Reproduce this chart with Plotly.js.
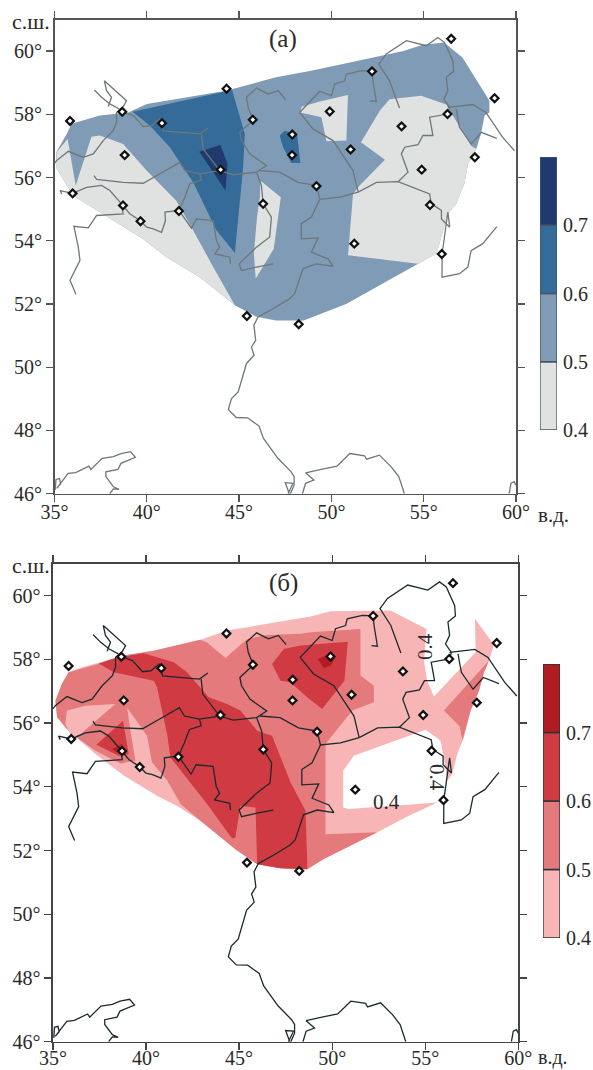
<!DOCTYPE html>
<html><head><meta charset="utf-8">
<script src="https://cdn.plot.ly/plotly-3.0.1.min.js"></script>
<style>html,body{margin:0;padding:0;background:#fff}</style></head>
<body><div id="g" style="width:593px;height:1070px"></div>
<script>
// Stations [lon, lat]
const stations=[[35.84,57.79],[38.67,58.08],[40.82,57.72],[44.32,58.81],[45.74,57.83],[38.8,56.71],[35.98,55.5],[38.71,55.12],[39.66,54.62],[41.74,54.94],[44.0,56.25],[46.3,55.17],[47.88,57.36],[47.87,56.71],[45.42,51.62],[48.23,51.36],[49.91,58.09],[52.2,59.36],[56.49,60.39],[58.84,58.51],[56.29,58.01],[53.8,57.62],[51.04,56.89],[49.19,55.73],[54.89,56.25],[57.77,56.64],[55.34,55.13],[51.24,53.91],[55.98,53.58]];
// Rivers and coast [lon, lat]
const rivers=[
[[37.16,58.77],[37.55,58.54],[38.0,58.33],[38.51,58.17]],
[[35.0,56.45],[35.12,56.54],[35.75,56.83],[36.56,56.64],[37.1,56.75],[37.64,57.17],[38.18,57.48],[38.36,57.75],[38.36,58.06],[38.72,58.24],[38.9,58.43],[38.27,58.77],[37.7,59.06],[37.82,58.75],[38.09,58.54],[37.91,58.25]],
[[38.69,58.08],[39.27,57.96],[39.81,57.61],[40.26,57.64],[40.7,57.85],[40.89,57.48],[42.87,57.38],[43.32,57.57]],
[[42.96,57.38],[43.05,56.91],[43.95,56.22],[44.68,56.09],[45.94,56.17],[46.48,56.38],[45.58,56.75],[45.13,57.17],[45.04,57.43],[45.76,57.82],[45.49,58.22],[45.4,58.54],[45.94,58.83],[46.57,58.64],[47.11,58.75],[47.53,58.46]],
[[37.14,56.06],[37.28,55.94],[38.72,55.85],[39.81,55.82],[40.71,56.12],[41.79,56.48],[42.06,56.22],[42.87,56.12],[43.95,56.22]],
[[42.87,56.12],[42.96,55.91],[42.33,55.8],[42.06,55.38],[41.74,54.96],[40.98,54.91],[41.01,54.64],[40.8,54.27],[40.35,54.38],[39.99,54.43],[39.63,54.64],[39.09,54.85],[38.63,55.17],[38.0,55.59],[37.55,55.75],[36.74,55.69],[35.98,55.5],[35.3,55.59],[35.39,55.48]],
[[41.74,54.96],[42.42,54.4],[42.69,54.69],[43.6,54.64],[43.77,54.01],[43.95,53.8],[43.68,53.59],[44.5,53.48],[44.53,53.27]],
[[38.63,55.17],[38.72,54.85],[37.28,54.8],[36.83,54.41],[36.05,54.46],[36.29,53.8],[36.38,53.38],[35.84,52.75],[36.16,52.31]],
[[45.94,56.17],[46.21,55.75],[46.3,55.17],[46.75,54.75],[46.66,54.12],[45.94,53.8],[45.0,53.27],[45.13,53.06],[45.94,53.17],[46.84,53.27]],
[[46.12,56.22],[47.2,56.17],[48.19,55.85],[49.19,55.75],[49.37,55.31],[50.45,55.38],[51.45,55.54],[52.44,55.85],[53.61,55.87],[55.32,55.48],[55.41,55.17],[55.96,54.96],[55.96,54.69],[56.41,54.43],[56.31,54.91],[56.0,53.59],[55.99,52.85],[56.94,52.96],[57.39,53.17],[57.57,53.69],[58.2,53.91],[58.96,54.45]],
[[49.37,55.31],[48.92,54.75],[48.37,54.54],[48.37,54.06],[49.28,54.09],[48.92,53.64],[49.82,53.43],[50.09,53.19],[49.19,53.27],[48.46,53.12],[48.01,52.33],[47.74,52.17],[46.84,51.85],[46.03,51.59],[45.8,51.33],[45.9,50.85],[45.67,50.64],[45.81,50.38],[45.4,50.12],[45.16,49.64],[44.95,49.22],[44.58,49.0],[44.42,48.66],[44.85,48.41],[45.46,48.4],[46.08,48.14],[46.32,47.75],[47.1,47.12],[47.82,46.69],[47.98,46.54],[47.98,46.27],[47.78,46.0]],
[[47.65,46.0],[47.92,46.33],[47.5,46.35],[47.72,46.0]],
[[48.28,58.06],[49.37,58.73],[50.0,58.59],[50.18,58.96],[50.72,59.06],[50.81,59.27],[51.62,59.38],[52.2,59.36],[52.25,59.06],[52.43,58.41],[52.11,58.43]],
[[48.28,58.06],[49.0,57.54],[50.09,57.17],[51.17,56.22],[51.45,55.54]],
[[53.69,58.2],[53.15,59.06],[52.57,59.59],[52.97,59.91],[54.06,60.33],[55.14,60.17],[55.77,60.43],[56.13,60.27],[56.58,59.69],[56.62,59.36],[56.22,59.17],[56.31,58.75],[56.09,58.48],[56.4,58.22],[56.31,58.01],[55.32,57.91],[55.5,57.33],[54.96,57.33],[54.69,57.04],[53.97,56.96],[53.79,56.75],[54.15,56.17],[53.61,55.87]],
[[56.31,58.22],[57.66,58.31],[58.37,58.06],[59.28,57.27],[59.92,56.85]],
[[56.76,58.17],[56.94,57.59],[57.57,57.06],[58.12,57.43],[58.96,57.24]],
[[35.04,46.12],[35.08,46.45],[35.27,46.48],[35.33,46.31],[35.12,46.17],[35.74,46.64],[36.15,46.67],[36.86,46.87],[36.97,46.77],[37.58,47.12],[38.19,47.17],[38.6,47.27],[39.12,47.33],[39.38,47.15],[38.6,46.96],[38.44,46.77],[37.78,46.69],[37.78,46.54],[38.19,46.22],[38.5,46.14],[38.19,46.15],[37.99,46.0]],
[[48.43,46.0],[48.6,46.33],[49.05,46.43],[48.6,46.66],[49.45,46.77],[50.3,46.87],[51.0,47.27],[51.8,47.2],[51.9,47.09],[52.6,47.22],[53.24,46.85],[53.65,46.54],[53.92,46.06],[53.96,46.0]],
[[59.63,46.0],[59.73,46.33],[59.9,46.38],[60.0,46.27]]
];
// Panel (a) isoline regions [lon, lat]
const a05=[[35.08,56.43],[35.1,56.8],[35.66,57.38],[35.93,57.7],[37.46,57.96],[39.0,58.06],[40,58.33],[44.3,58.75],[47.0,59.17],[48.9,59.38],[51.0,59.64],[52.6,59.85],[53.9,60.0],[54.96,60.2],[56.1,60.27],[57.1,59.8],[57.85,59.1],[58.56,58.43],[58.56,58.06],[58.3,57.96],[58.1,57.38],[57.85,56.9],[57.4,56.43],[57.2,55.8],[56.76,55.17],[56.3,54.85],[55.7,53.6],[54.7,53.27],[53.15,52.75],[50.8,52.0],[48.5,51.48],[47.0,51.48],[45.94,51.6],[44.77,51.96],[42.87,52.85],[41.07,53.48],[39.8,54.06],[37.3,54.96],[36.0,55.43],[35.1,56.3]];
const a04A=[[35.08,56.43],[35.12,56.8],[35.71,57.22],[36.15,55.75],[37.0,57.29],[37.46,57.33],[38.72,57.06],[39.99,56.22],[41.6,55.27],[42.42,54.43],[43.6,53.17],[44.77,51.96],[42.87,52.85],[41.07,53.48],[39.8,54.06],[37.3,54.96],[36.0,55.43],[35.1,56.3]];
const a04B=[[46.16,55.9],[47.26,55.38],[46.88,53.75],[45.9,52.8],[45.8,53.59],[45.97,54.75],[46.12,55.38]];
const a04C=[[50.9,58.61],[50.81,57.17],[49.73,57.15],[49.46,57.91],[48.32,58.06],[48.38,58.24],[49.37,58.41]];
const a04D=[[53.15,58.48],[54.87,58.59],[56.22,58.31],[56.76,57.8],[57.57,57.01],[57.85,56.9],[57.4,56.43],[57.2,55.8],[56.76,55.17],[56.3,54.85],[55.7,53.59],[54.7,53.27],[50.9,53.54],[51.17,55.48],[51.53,55.75],[52.9,56.56],[51.6,57.12],[52.63,58.12]];
const a06A=[[39.23,58.08],[44.32,58.75],[44.62,58.77],[45.31,57.38],[45.22,56.33],[44.77,53.61],[43.77,54.33],[42.51,55.85],[41.25,56.96],[40.17,57.64]];
const a06B=[[47.2,57.33],[47.47,57.48],[48.14,57.38],[48.32,56.46],[47.83,56.46],[47.38,56.96]];
const a07=[[42.84,56.82],[43.99,57.03],[44.37,56.43],[44.26,55.59],[43.6,56.17]];
// Panel (б) isoline regions [lon, lat]
const b04=[[35.13,56.7],[35.48,57.23],[35.84,57.59],[36.56,57.75],[37.54,57.91],[38.8,58.12],[40.41,58.27],[42.92,58.61],[44.35,58.9],[46.5,59.11],[48.3,59.27],[48.84,59.34],[49.91,59.51],[53.14,59.53],[55.07,58.95],[54.93,57.96],[55.1,57.33],[55.47,56.83],[57.71,58.22],[57.67,59.27],[58.69,58.46],[58.43,57.96],[58.16,57.59],[57.89,57.02],[57.44,56.39],[57.08,55.55],[56.72,55.03],[56.45,54.4],[56.18,54.19],[56.0,54.92],[55.82,55.45],[55.02,55.79],[51.16,54.97],[50.59,54.5],[50.59,53.35],[50.9,53.3],[55.65,53.51],[53.95,53.04],[52.43,52.57],[49.55,51.73],[48.66,51.41],[47.22,51.44],[45.97,51.57],[44.8,52.04],[42.92,52.93],[41.67,53.4],[40.59,53.72],[38.8,54.35],[37.28,55.03],[35.75,55.81],[35.22,56.18]];
const b05=[[35.13,56.7],[35.48,57.23],[35.84,57.59],[37.54,57.87],[38.8,58.12],[40.41,58.27],[42.92,58.61],[43.28,58.53],[44.27,58.04],[45.43,58.64],[46.5,58.76],[48.3,58.8],[48.84,58.85],[51.52,58.95],[51.52,57.49],[52.24,57.17],[52.24,56.65],[51.08,56.39],[49.64,55.34],[49.64,52.51],[52.43,52.57],[49.55,51.73],[48.66,51.41],[47.22,51.44],[45.97,51.57],[44.8,52.04],[42.92,52.93],[41.85,53.46],[41.13,54.19],[40.32,54.76],[39.34,54.82],[38.62,54.73],[37.28,55.13],[36.38,55.5],[35.75,55.81],[35.22,56.18]];
const b05R=[[56.0,56.39],[58.43,57.96],[58.16,57.59],[57.89,57.02],[57.44,56.39],[57.0,55.45],[56.85,55.9]];
const b04P1=[[35.75,56.39],[36.74,56.54],[38.35,56.6],[37.54,56.18],[36.47,55.65],[36.02,55.55],[35.66,55.97]];
const b04P2=[[38.98,56.49],[40.05,55.6],[40.32,54.76],[41.13,54.19],[41.85,53.46],[40.59,54.19],[39.87,54.45],[39.43,54.82],[39.19,55.65]];
const b06A=[[37.46,57.87],[38.44,58.06],[39.87,58.19],[40.59,58.06],[41.49,57.91],[42.2,57.59],[43.37,56.81],[44.35,56.6],[45.07,56.39],[45.97,55.76],[46.77,55.6],[47.76,54.14],[48.57,53.25],[48.66,51.62],[48.66,51.41],[47.22,51.44],[45.97,51.57],[45.88,53.35],[45.07,53.4],[44.8,52.41],[44.62,52.38],[43.28,53.46],[41.31,54.92],[41.13,55.65],[40.59,57.12],[40.41,57.33],[38.8,57.51],[38.26,57.59]];
const b06B=[[46.77,57.85],[47.4,58.32],[48.3,58.43],[50.84,58.55],[50.66,57.33],[49.46,56.44],[48.66,56.81],[47.76,57.28],[47.22,57.33]];
const b06C=[[37.33,55.32],[38.76,56.07],[39.07,55.03],[38.53,54.97]];
const b07A=[[49.23,58.01],[49.91,58.17],[50.18,58.06],[49.91,57.8],[49.55,57.73]];
const b07B=[[38.17,55.18],[38.71,55.34],[38.94,54.97],[38.44,55.08]];
// Colour scale
const levels=[0.4,0.5,0.6,0.7];
const stepValue=[0.1,0.1,0.1,0.1];
const blues=['#e0e2e1','#7f9bb5','#356b98','#1f3a6c'];
const reds=['#f8b5b5','#e57a7c','#d03a42','#b11c22'];
const lonTicks=[35,40,45,50,55,60];
const latTicks=[46,48,50,52,54,56,58,60];

const W=593,H=1070,SERIF='"Liberation Serif",serif';
const dx=(a,b)=>[a/W,b/W], dy=(t,b)=>[1-b/H,1-t/H];
const traces=[];
function poly(p,c,ax){traces.push({type:'scatter',mode:'lines',x:p.map(q=>q[0]),y:p.map(q=>q[1]),fill:'toself',fillcolor:c,line:{width:0,color:c},hoverinfo:'skip',xaxis:'x'+ax,yaxis:'y'+ax,showlegend:false});}
function overlay(ax,col,lw){
  rivers.forEach(r=>traces.push({type:'scatter',mode:'lines',x:r.map(q=>q[0]),y:r.map(q=>q[1]),line:{color:col,width:lw},hoverinfo:'skip',xaxis:'x'+ax,yaxis:'y'+ax,showlegend:false}));
  traces.push({type:'scatter',mode:'markers',x:stations.map(q=>q[0]),y:stations.map(q=>q[1]),marker:{symbol:'diamond',size:6,color:'#fff',line:{color:'#111',width:2.2}},hoverinfo:'skip',xaxis:'x'+ax,yaxis:'y'+ax,showlegend:false,cliponaxis:false});
}
poly(a05,blues[1],'');[a04A,a04B,a04C,a04D].forEach(p=>poly(p,blues[0],''));
[a06A,a06B].forEach(p=>poly(p,blues[2],''));poly(a07,blues[3],'');overlay('','#6e7779',1.3);
poly(b04,reds[0],'2');poly(b05,reds[1],'2');poly(b05R,reds[1],'2');[b04P1,b04P2].forEach(p=>poly(p,reds[0],'2'));
[b06A,b06B,b06C].forEach(p=>poly(p,reds[2],'2'));[b07A,b07B].forEach(p=>poly(p,reds[3],'2'));overlay('2','#1c2a2c',1.3);
function bar(cols,ax,edge){cols.forEach((c,i)=>traces.push({type:'bar',x:[1],y:[stepValue[i]],base:[levels[i]],width:[1],marker:{color:c,line:{color:edge,width:1.3}},hoverinfo:'skip',xaxis:'x'+ax,yaxis:'y'+ax,showlegend:false}));}
bar(blues,'3','#47575f');bar(reds,'4','#2c3436');

const tf={family:SERIF,size:20,color:'#2a2a2a'};
function xa(dom,anchor,col,off){return {domain:dom,anchor:anchor,range:[35,60],tickmode:'array',tickvals:lonTicks,ticktext:lonTicks.map(v=>v+'°'),ticks:'outside',ticklen:7,tickwidth:1.3,tickcolor:col,linecolor:col,linewidth:1.6,mirror:'ticks',showgrid:false,zeroline:false,tickfont:tf,tickangle:0,ticklabelstandoff:off};}
function ya(dom,anchor,col){return {domain:dom,anchor:anchor,range:[46,61],tickmode:'array',tickvals:latTicks,ticktext:latTicks.map(v=>v+'°'),ticks:'outside',ticklen:7,tickwidth:1.3,tickcolor:col,linecolor:col,linewidth:1.6,mirror:'ticks',showgrid:false,zeroline:false,tickfont:tf};}
function cx(dom,anchor){return {domain:dom,anchor:anchor,range:[0.5,1.5],visible:false,fixedrange:true};}
function cy(dom,anchor){return {domain:dom,anchor:anchor,side:'right',range:[0.4,0.8],tickvals:levels,tickformat:'.1f',ticks:'outside',ticklen:1,tickcolor:'rgba(0,0,0,0)',showline:false,showgrid:false,zeroline:false,tickfont:{family:SERIF,size:20,color:'#2a2a2a'}};}
function note(x,y,t,size,rot,anchor){return {xref:'paper',yref:'paper',x:x/W,y:1-y/H,text:t,showarrow:false,font:{family:SERIF,size:size,color:'#2a2a2a'},textangle:rot||0,xanchor:anchor||'center',yanchor:'middle'};}
const layout={width:W,height:H,margin:{l:0,r:0,t:0,b:0},paper_bgcolor:'#fff',plot_bgcolor:'#fff',showlegend:false,barmode:'overlay',
 xaxis:xa(dx(54.5,516),'y','#555',-7),yaxis:ya(dy(19.5,493.7),'x','#555'),
 xaxis2:xa(dx(53,518.3),'y2','#444',-9),yaxis2:ya(dy(563.7,1041.7),'x2','#444'),
 xaxis3:cx(dx(540,557),'y3'),yaxis3:cy(dy(157,430),'x3'),
 xaxis4:cx(dx(543,560),'y4'),yaxis4:cy(dy(664,938),'x4'),
 annotations:[note(31,21,'с.ш.',22),note(283,39,'(а)',25),note(553,515,'в.д.',21),
  note(31,565,'с.ш.',22),note(283,583,'(б)',25),note(553,1057,'в.д.',20),
  note(386,802,'0.4',21),note(425,647,'0.4',21,-90),note(437,778,'0.4',21,90)]};
Plotly.newPlot('g',traces,layout,{displayModeBar:false,staticPlot:true});
</script></body></html>
